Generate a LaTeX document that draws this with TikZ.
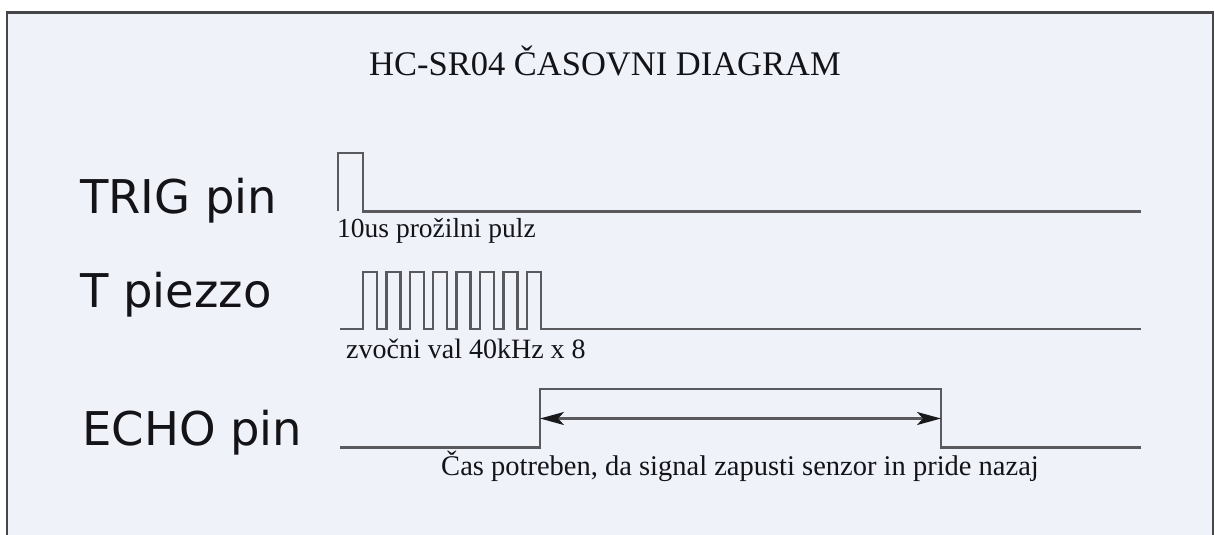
\documentclass[tikz,border=0pt]{standalone}
\usepackage{fontspec}
\setmainfont{Liberation Serif}
\newfontfamily\labelfont{DejaVu Sans}
\usetikzlibrary{arrows.meta}
\definecolor{bgc}{RGB}{240,242,250}
\definecolor{framec}{RGB}{70,70,72}
\definecolor{wavec}{RGB}{90,90,94}
\definecolor{txtc}{RGB}{20,20,24}
\definecolor{tipc}{RGB}{25,25,28}
\tikzset{
  wave/.style={draw=wavec, line width=2.4pt, line join=miter},
  siglabel/.style={anchor=base west, inner sep=0pt, text=txtc, font=\labelfont\fontsize{46.5}{50}\selectfont},
  note/.style={inner sep=0pt, text=txtc, font=\fontsize{28}{32}\selectfont},
  titletext/.style={anchor=base, inner sep=0pt, text=txtc, font=\fontsize{34.5}{40}\selectfont},
  span/.style={draw=wavec, line width=2.2pt, {Stealth[length=24pt,width=13pt,inset=6pt,color=tipc]}-{Stealth[length=24pt,width=13pt,inset=6pt,color=tipc]}}
}
\begin{document}
\begin{tikzpicture}[x=1pt,y=-1pt]
\useasboundingbox (0,0) rectangle (1215,535);
\fill[white] (0,0) rectangle (1215,535);
\begin{scope}
\clip (0,0) rectangle (1215,535);
\filldraw[fill=bgc, draw=framec, line width=2.2pt] (7,12.5) rectangle (1213,560);
\end{scope}
% title
\node[titletext] (title) at (605,75) {HC-SR04 ČASOVNI DIAGRAM};
% labels
\node[siglabel] (trig) at (80,213) {TRIG pin};
\node[siglabel] (piezo) at (80,307) {T piezzo};
\node[siglabel] (echo) at (82,445) {ECHO pin};
% TRIG waveform
\draw[wave] (338,211) -- (338,153) -- (363,153) -- (363,211.5) -- (1141,211.5);
\node[note, anchor=base west, font=\fontsize{27.5}{32}\selectfont] (trignote) at (337,237) {10us prožilni pulz};
% T piezzo waveform
\draw[wave] (340,329) -- (363,329)
  \foreach \k in {0,...,7} {
    -- ({363+23.4*\k},272) -- ({377+23.4*\k},272) -- ({377+23.4*\k},329) -- ({386.4+23.4*\k},329)
  } -- (1141,329);
\node[note, anchor=base west] (piezonote) at (346,358) {zvočni val 40kHz x 8};
% ECHO waveform
\coordinate (rise) at (540,418.5);
\coordinate (fall) at (941,418.5);
\draw[wave] (340,447.5) -- (540,447.5) -- (540,389) -- (941,389) -- (941,447.5) -- (1141,447.5);
\draw[span] (rise) -- (fall);
\node[note, anchor=base, font=\fontsize{28.5}{32}\selectfont] (echonote) at (740,475) {Čas potreben, da signal zapusti senzor in pride nazaj};
\end{tikzpicture}
\end{document}
